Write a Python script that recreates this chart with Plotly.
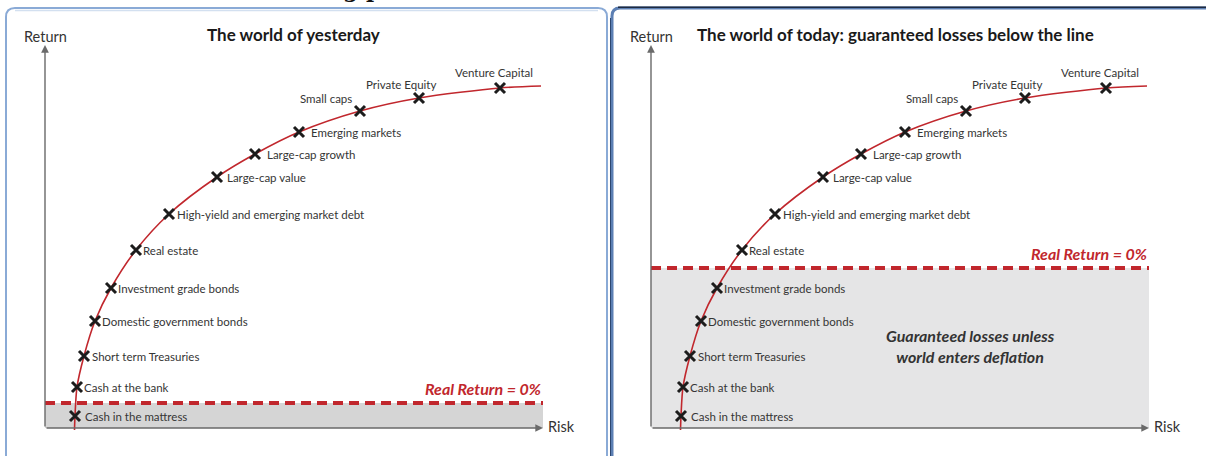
import plotly.graph_objects as go

W, H = 1206, 456

# ---------------- data (risk / return in arbitrary chart units) ----------------
assets = [
    "Cash in the mattress", "Cash at the bank", "Short term Treasuries",
    "Domestic government bonds", "Investment grade bonds", "Real estate",
    "High-yield and emerging market debt", "Large-cap value", "Large-cap growth",
    "Emerging markets", "Small caps", "Private Equity", "Venture Capital",
]
risk = [3.0, 3.2, 3.9, 5.0, 6.6, 9.1, 12.4, 17.2, 21.0, 25.4, 31.5, 37.4, 45.5]
ret = [1.2, 4.1, 7.2, 10.7, 14.0, 17.8, 21.4, 25.1, 27.4, 29.6, 31.7, 33.0, 34.0]

frontier_start = (2.95, -0.2)
frontier_end = (49.6, 34.2)

real_return_yesterday = 2.5
real_return_today = 16.0
risk_axis_end = 49.8
return_axis_end = 38.3

titles = ["The world of yesterday", "The world of today: guaranteed losses below the line"]
loss_note = "Guaranteed losses unless<br>world enters deflation"

# ---------------- styling helpers ----------------
def X(px):
    return px / W


def Y(py):
    return 1 - py / H


RED = "#c1272d"
AXIS = "#6a6a6a"
TXT = "#353535"
FONT = "Lato"

# label placement (style only): xanchor, xshift, yshift
label_style = {
    "Cash in the mattress": ("left", 8, 0),
    "Cash at the bank": ("left", 5, 0),
    "Short term Treasuries": ("left", 6, 0),
    "Domestic government bonds": ("left", 5, 0),
    "Investment grade bonds": ("left", 5, 0),
    "Real estate": ("left", 5, 0),
    "High-yield and emerging market debt": ("left", 6, 0),
    "Large-cap value": ("left", 8, 0),
    "Large-cap growth": ("left", 10, 0),
    "Emerging markets": ("left", 10, 0),
    "Small caps": ("center", -34, 13),
    "Private Equity": ("center", -18, 14),
    "Venture Capital": ("center", -6, 16),
}

fig = go.Figure()
annotations = []
shapes = []

panels = [
    dict(xa="x", ya="y", rr=real_return_yesterday),
    dict(xa="x2", ya="y2", rr=real_return_today),
]

for i, p in enumerate(panels):
    xa, ya, rr = p["xa"], p["ya"], p["rr"]
    # shaded region below real-return line
    shapes.append(dict(type="rect", xref=xa, yref=ya, x0=0, x1=risk_axis_end,
                       y0=0, y1=rr, fillcolor="#d5d5d5" if i == 0 else "#e5e5e6",
                       line=dict(width=0), layer="below"))
    # dashed real-return line
    shapes.append(dict(type="line", xref=xa, yref=ya, x0=0, x1=risk_axis_end,
                       y0=rr, y1=rr, line=dict(color=RED, width=4, dash="10px,6px"),
                       layer="above"))
    # frontier curve
    fig.add_trace(go.Scatter(
        x=[frontier_start[0]] + risk + [frontier_end[0]],
        y=[frontier_start[1]] + ret + [frontier_end[1]],
        mode="lines", line=dict(color=RED, width=1.6, shape="spline", smoothing=0.8),
        xaxis=xa, yaxis=ya, hoverinfo="skip", showlegend=False))
    # markers
    fig.add_trace(go.Scatter(
        x=risk, y=ret, mode="markers",
        marker=dict(symbol="x-thin", size=10, line=dict(width=3, color="#1c1c1c")),
        xaxis=xa, yaxis=ya, text=assets, hoverinfo="text", showlegend=False))
    # labels
    for name, xv, yv in zip(assets, risk, ret):
        anc, xs, ys = label_style[name]
        annotations.append(dict(x=xv, y=yv, xref=xa, yref=ya, text=name, showarrow=False,
                                xanchor=anc, yanchor="middle", xshift=xs, yshift=ys,
                                font=dict(family=FONT, size=11.5, color=TXT)))
    # axes arrows
    annotations.append(dict(x=risk_axis_end, y=0, ax=0, ay=0, xref=xa, yref=ya,
                            axref=xa, ayref=ya, text="", showarrow=True, arrowhead=2,
                            arrowsize=1.1, arrowwidth=1.4, arrowcolor=AXIS, standoff=0))
    annotations.append(dict(x=0, y=return_axis_end, ax=0, ay=0, xref=xa, yref=ya,
                            axref=xa, ayref=ya, text="", showarrow=True, arrowhead=2,
                            arrowsize=1.1, arrowwidth=1.4, arrowcolor=AXIS, standoff=0))
    annotations.append(dict(x=risk_axis_end, y=0, xref=xa, yref=ya, text="Risk",
                            showarrow=False, xanchor="left", yanchor="middle", xshift=3,
                            yshift=2, font=dict(family=FONT, size=14.5, color="#333")))
    annotations.append(dict(x=0, y=39.2, xref=xa, yref=ya, text="Return",
                            showarrow=False, xanchor="center", yanchor="middle",
                            font=dict(family=FONT, size=14.5, color="#333")))
    # real return label
    annotations.append(dict(x=risk_axis_end, y=rr, xref=xa, yref=ya,
                            text="Real Return = 0%", showarrow=False, xanchor="right",
                            yanchor="bottom", yshift=3,
                            font=dict(family=FONT, size=16, color=RED,
                                      weight="bold", style="italic")))

# titles
annotations.append(dict(x=X(293), y=Y(34), xref="paper", yref="paper", text=titles[0],
                        showarrow=False, xanchor="center", yanchor="middle",
                        font=dict(family=FONT, size=17, color="#1a1a1a", weight="bold")))
annotations.append(dict(x=X(695), y=Y(35), xref="paper", yref="paper", text=titles[1],
                        showarrow=False, xanchor="left", yanchor="middle",
                        font=dict(family=FONT, size=17, color="#1a1a1a", weight="bold")))
# loss note
annotations.append(dict(x=31.9, y=8.2, xref="x2", yref="y2", text=loss_note,
                        showarrow=False, xanchor="center", yanchor="middle",
                        font=dict(family=FONT, size=16, color="#333",
                                  weight="bold", style="italic")))
# cut-off heading at the very top
annotations.append(dict(x=X(362), y=Y(3), xref="paper", yref="paper", text="g p",
                        showarrow=False, xanchor="center", yanchor="bottom", borderpad=0,
                        font=dict(family="DejaVu Serif", size=22, color="#111",
                                  weight="bold")))

# panel frames
left_frame = (f"M {X(6)},{Y(470)} L {X(6)},{Y(17)} Q {X(6)},{Y(8)} {X(15)},{Y(8)} "
              f"L {X(598)},{Y(8)} Q {X(607)},{Y(8)} {X(607)},{Y(17)} L {X(607)},{Y(470)}")
shapes.append(dict(type="path", xref="paper", yref="paper", path=left_frame,
                   line=dict(color="#8aaad6", width=2)))
shapes.append(dict(type="line", xref="paper", yref="paper", x0=X(15), x1=X(598),
                   y0=Y(10.5), y1=Y(10.5), line=dict(color="#d3e0f0", width=1.5)))
right_top = (f"M {X(612)},{Y(470)} L {X(612)},{Y(16)} Q {X(612)},{Y(8)} {X(620)},{Y(8)} "
             f"L {X(1210)},{Y(8)}")
shapes.append(dict(type="path", xref="paper", yref="paper", path=right_top,
                   line=dict(color="#5c7fb3", width=3)))
shapes.append(dict(type="line", xref="paper", yref="paper", x0=X(618), x1=X(1210),
                   y0=Y(7.2), y1=Y(7.2), line=dict(color="#1e2a40", width=1.5)))
shapes.append(dict(type="line", xref="paper", yref="paper", x0=X(610.5), x1=X(610.5),
                   y0=Y(18), y1=Y(470), line=dict(color="#2d4670", width=1)))

axis_common = dict(showgrid=False, zeroline=False, showticklabels=False, ticks="",
                   showline=False, fixedrange=True)

fig.update_layout(
    width=W, height=H,
    margin=dict(l=0, r=0, t=0, b=0),
    paper_bgcolor="white", plot_bgcolor="rgba(0,0,0,0)",
    xaxis=dict(domain=[0, 606 / W], range=[-4.5, 56.1], **axis_common),
    yaxis=dict(domain=[0, 1], range=[-2.8, 42.8], **axis_common),
    xaxis2=dict(domain=[606 / W, 1], range=[-4.5, 55.5], **axis_common),
    yaxis2=dict(domain=[0, 1], range=[-2.8, 42.8], anchor="x2", **axis_common),
    shapes=shapes,
    annotations=annotations,
    showlegend=False,
)

fig.write_html("out.html")
